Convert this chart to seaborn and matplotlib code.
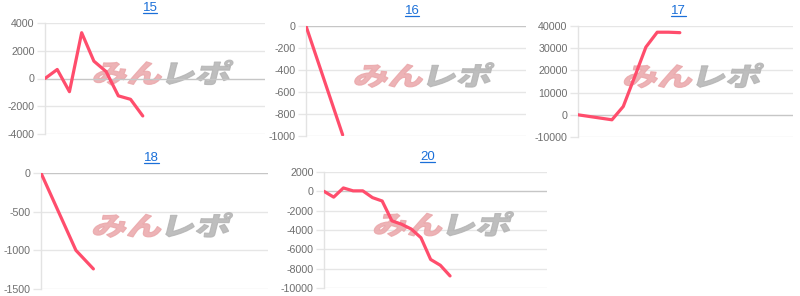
import numpy as np
import pandas as pd
import seaborn as sns
import matplotlib
matplotlib.use("Agg")
import matplotlib.pyplot as plt
from matplotlib.textpath import TextPath
from matplotlib.patches import PathPatch
from matplotlib.font_manager import FontProperties
from matplotlib.transforms import Affine2D
from matplotlib.lines import Line2D

# ---- data ----
titles = ["15", "16", "17", "18", "20"]
values_15 = [0, 650, -950, 3300, 1250, 500, -1250, -1500, -2700]
values_16 = [0, -990]
values_17 = [0, -750, -1500, -2250, 3750, 17000, 30500, 37200, 37200, 37000]
values_18 = [0, -500, -1000, -1240]
values_20 = [0, -600, 350, 50, 50, -650, -1000, -3050, -3400, -3900, -4800,
             -7050, -7650, -8750]
yticks_15 = [-4000, -2000, 0, 2000, 4000]
yticks_16 = [-1000, -800, -600, -400, -200, 0]
yticks_17 = [-10000, 0, 10000, 20000, 30000, 40000]
yticks_18 = [-1500, -1000, -500, 0]
yticks_20 = [-10000, -8000, -6000, -4000, -2000, 0, 2000]
xmax_list = [18, 6, 19, 13, 23]

series = [values_15, values_16, values_17, values_18, values_20]
yticks = [yticks_15, yticks_16, yticks_17, yticks_18, yticks_20]

# ---- style ----
sns.set_theme(style="white")
plt.rcParams["font.family"] = ["Liberation Sans", "DejaVu Sans"]

W, H = 800, 296
fig = plt.figure(figsize=(W / 100, H / 100), dpi=100)

# plot-area boxes in pixels: left, top, right, bottom
boxes = [(45, 23, 265, 134), (306, 26, 526, 136), (578, 26, 793, 137),
         (41, 173, 268, 289), (324, 172, 547, 288)]
title_dx = [-5, -4, -7, -3, -8]

LINE = "#ff4d6c"
GRID = "#e6e6e6"
ZERO = "#c6c6c6"
TICK = "#6e6e6e"
TITLE = "#1a6fd8"

fp = FontProperties(family=["Noto Sans CJK JP"], weight="black")

def watermark(ax):
    x0, y0 = ax.transAxes.transform((0.5, 0.5))
    cx, cy = x0 + 8, y0 + 6
    p1 = TextPath((0, 0), "みん", size=1, prop=fp)
    p2 = TextPath((1.95, 0), "レポ", size=1, prop=fp)
    ext = p1.get_extents().union([p1.get_extents(), p2.get_extents()])
    wmid = (ext.x0 + ext.x1) / 2
    hmid = (ext.y0 + ext.y1) / 2
    tr = (Affine2D().translate(-wmid, -hmid).scale(35, 26)
          .skew_deg(14, 0).translate(cx, cy))
    for p, c in ((p1, "#eaa6a9"), (p2, "#b3b3b3")):
        patch = PathPatch(p, facecolor=c, edgecolor=c, linewidth=0.8,
                          alpha=0.85, transform=tr, zorder=1.5, clip_on=False)
        ax.add_artist(patch)

axes = []
for i, (vals, ticks, box, xm) in enumerate(zip(series, yticks, boxes, xmax_list)):
    l, t, r, b = box
    ax = fig.add_axes([l / W, 1 - b / H, (r - l) / W, (b - t) / H])
    df = pd.DataFrame({"x": np.arange(len(vals)), "y": vals})
    sns.lineplot(data=df, x="x", y="y", ax=ax, color=LINE, linewidth=2.3,
                 zorder=3)
    ax.set_xlim(0, xm)
    ax.set_ylim(min(ticks), max(ticks))
    ax.set_yticks(ticks)
    ax.set_yticklabels([str(v) for v in ticks])
    ax.set_xticks([])
    ax.set_xlabel("")
    ax.set_ylabel("")
    for yv in ticks:
        ax.axhline(yv, color=ZERO if yv == 0 else GRID, linewidth=1,
                   zorder=1 if yv != 0 else 2)
    for s in ("top", "right", "bottom"):
        ax.spines[s].set_visible(False)
    ax.spines["left"].set_color("#e3e3e3")
    ax.spines["left"].set_linewidth(1)
    ax.tick_params(axis="y", length=6, width=1, color=GRID, pad=1.5,
                   labelsize=7.7, labelcolor=TICK, left=True)
    ax.set_facecolor("none")
    watermark(ax)
    # title
    cxp = (l + r) / 2 + title_dx[i]
    ty = t - 15
    txt = fig.text(cxp / W, 1 - ty / H, titles[i], ha="center", va="center",
                   fontsize=9.5, color=TITLE)
    axes.append((txt, cxp, ty))

fig.canvas.draw()
renderer = fig.canvas.get_renderer()
for txt, cxp, ty in axes:
    bb = txt.get_window_extent(renderer)
    uy = bb.y0 + 1.5
    fig.add_artist(Line2D([bb.x0 / W, bb.x1 / W], [uy / H, uy / H],
                          transform=fig.transFigure, color=TITLE, linewidth=0.9))

fig.savefig("out.png", dpi=100)
